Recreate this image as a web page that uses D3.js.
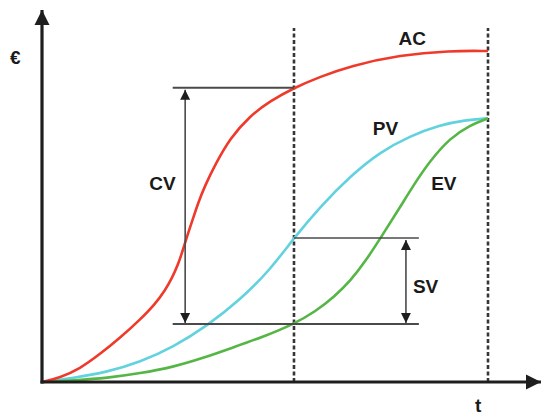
<!DOCTYPE html>
<html>

<head>
    <title>Earned value</title>
    <script src="https://d3js.org/d3.v7.min.js"></script>
    <style>
        body { margin: 0; background: #fff; }
        text { font-family: "Liberation Sans", Arial, sans-serif; font-weight: bold; fill: #1a1a1a; }
    </style>
</head>

<body>
    <script>
        // curve samples: [time, value], time 0..100, value 0..100
        var acData = [[0, 0], [4, 1.3], [8.5, 4.0], [13, 8.4], [17.5, 13.3], [22, 18.8], [25.3, 23.4],
            [27.6, 27.6], [29.1, 31.2], [30.5, 35.3], [31.6, 39.8], [32.7, 44.6], [33.9, 49.4],
            [35, 53.9], [36.5, 59.0], [38.8, 65.4], [42.2, 73.5], [46.6, 80.1], [51.1, 84.6],
            [56.5, 88.6], [62.3, 91.9], [69.1, 95.2], [80.3, 98.5], [91.5, 99.8], [100, 99.7]];
        var pvData = [[0, 0], [7, 1.2], [14.6, 3.0], [22, 6.0], [29.4, 10.5], [37, 16.9], [44.4, 24.7],
            [51.1, 33.7], [56.5, 43.4], [62.3, 52.7], [69.1, 62.0], [75.8, 69.3], [82.5, 74.1],
            [89.2, 77.4], [94.8, 78.9], [100, 79.4]];
        var evData = [[0, 0], [7.4, 0.5], [14.6, 1.2], [22, 2.6], [29.4, 4.5], [36.1, 7.2], [42.8, 10.4],
            [49.6, 13.6], [56.5, 17.5], [61.2, 21.1], [65.7, 25.9], [69.1, 30.4], [72.4, 36.1],
            [76.5, 44.6], [80.3, 52.7], [83.6, 59.9], [87, 66.6], [91.5, 73.5], [96, 77.4], [100, 79.4]];

        var statusTime = 56.5;   // first dashed line
        var endTime = 100;       // second dashed line

        var width = 542, height = 416;
        var x = d3.scaleLinear().domain([0, 100]).range([42, 488]);
        var y = d3.scaleLinear().domain([0, 100]).range([382, 50]);

        var svg = d3.select("body").append("svg")
            .attr("width", width)
            .attr("height", height);

        var defs = svg.append("defs");
        function arrowMarker(id, w, h, color) {
            defs.append("marker")
                .attr("id", id)
                .attr("viewBox", "0 0 10 10")
                .attr("refX", 10).attr("refY", 5)
                .attr("markerUnits", "userSpaceOnUse")
                .attr("markerWidth", w).attr("markerHeight", h)
                .attr("orient", "auto-start-reverse")
                .append("path")
                .attr("d", "M0,0 L10,5 L0,10 Z")
                .attr("fill", color);
        }
        arrowMarker("axisArrow", 15, 18, "#1e1e1e");
        arrowMarker("dimArrow", 10, 12, "#1e1e1e");

        // dashed time markers
        [statusTime, endTime].forEach(function (t) {
            svg.append("line")
                .attr("x1", x(t)).attr("x2", x(t))
                .attr("y1", y(0)).attr("y2", y(106.6))
                .attr("stroke", "#363636")
                .attr("stroke-width", 2.6)
                .attr("stroke-dasharray", "4,2.5");
        });

        var line = d3.line()
            .x(function (d) { return x(d[0]); })
            .y(function (d) { return y(d[1]); })
            .curve(d3.curveBasis);

        var series = [
            { name: "PV", data: pvData, color: "#62d2de" },
            { name: "EV", data: evData, color: "#55b646" },
            { name: "AC", data: acData, color: "#ef3a2b" }
        ];
        series.forEach(function (s) {
            svg.append("path")
                .datum(s.data)
                .attr("fill", "none")
                .attr("stroke", s.color)
                .attr("stroke-width", 2.6)
                .attr("d", line);
        });

        function valueAt(data, t) {
            return data.find(function (d) { return d[0] === t; })[1];
        }
        var acNow = valueAt(acData, statusTime);
        var pvNow = valueAt(pvData, statusTime);
        var evNow = valueAt(evData, statusTime);

        // CV and SV brackets
        var cvX = 32.1, cvLeft = 29.3, svX = 81.6, svRight = 84.5;
        var dim = svg.append("g").attr("stroke", "#4a4a4a");
        dim.append("line").attr("x1", x(cvLeft)).attr("x2", x(statusTime))
            .attr("y1", y(acNow)).attr("y2", y(acNow)).attr("stroke-width", 2);
        dim.append("line").attr("x1", x(cvLeft)).attr("x2", x(svRight))
            .attr("y1", y(evNow)).attr("y2", y(evNow)).attr("stroke-width", 2);
        dim.append("line").attr("x1", x(statusTime)).attr("x2", x(svRight))
            .attr("y1", y(pvNow)).attr("y2", y(pvNow)).attr("stroke-width", 1.5);
        dim.append("line").attr("x1", x(cvX)).attr("x2", x(cvX))
            .attr("y1", y(acNow) + 2).attr("y2", y(evNow) - 1)
            .attr("stroke-width", 1.6)
            .attr("marker-start", "url(#dimArrow)")
            .attr("marker-end", "url(#dimArrow)");
        dim.append("line").attr("x1", x(svX)).attr("x2", x(svX))
            .attr("y1", y(pvNow) + 2).attr("y2", y(evNow) - 1)
            .attr("stroke-width", 1.6)
            .attr("marker-start", "url(#dimArrow)")
            .attr("marker-end", "url(#dimArrow)");

        // axes
        svg.append("line")
            .attr("x1", x(0)).attr("x2", x(0))
            .attr("y1", y(0) + 1.5).attr("y2", 10)
            .attr("stroke", "#1e1e1e").attr("stroke-width", 3.2)
            .attr("marker-end", "url(#axisArrow)");
        svg.append("line")
            .attr("x1", x(0) - 1.5).attr("x2", 541)
            .attr("y1", y(0)).attr("y2", y(0))
            .attr("stroke", "#1e1e1e").attr("stroke-width", 3.2)
            .attr("marker-end", "url(#axisArrow)");

        // labels
        var labels = [
            { text: "AC", t: 83, v: 101.5 },
            { text: "PV", t: 77, v: 74.4 },
            { text: "EV", t: 90.1, v: 57.8 },
            { text: "CV", t: 27, v: 57.8 },
            { text: "SV", t: 86, v: 26.8 },
            { text: "t", t: 97.8, v: -9 },
            { text: "€", t: -6, v: 95.8 }
        ];
        svg.selectAll("text.lbl")
            .data(labels)
            .enter()
            .append("text")
            .attr("class", "lbl")
            .attr("x", function (d) { return x(d.t); })
            .attr("y", function (d) { return y(d.v); })
            .attr("text-anchor", "middle")
            .style("font-size", "19px")
            .text(function (d) { return d.text; });
    </script>
</body>

</html>
